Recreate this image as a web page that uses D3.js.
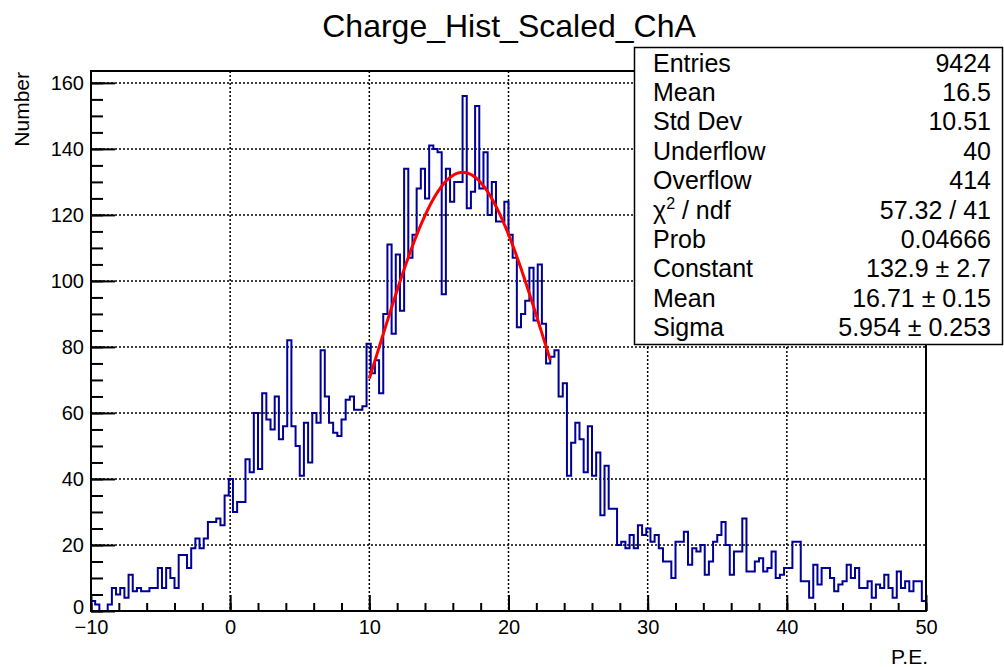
<!DOCTYPE html>
<html>
<head>
<meta charset="utf-8">
<script src="https://cdn.jsdelivr.net/npm/d3@7"></script>
<style>
  body { margin: 0; background: #fff; }
  svg { display: block; font-family: "Liberation Sans", Arial, sans-serif; }
</style>
</head>
<body>
<script>
const title = 'Charge_Hist_Scaled_ChA';
const xLabel = 'P.E.';
const yLabel = 'Number';

// 200 bins of 0.3 P.E. from -10 to 50
const xMin = -10, xMax = 50, binWidth = 0.3;
const counts = [
  3, 2, 0, 0, 2, 7, 5, 7, 4, 11, 6, 7, 6, 6, 7, 7, 13, 7, 13, 10,
  7, 17, 17, 13, 19, 22, 19, 22, 27, 27, 28, 26, 35, 40, 30, 33, 33,
  46, 42, 60, 43, 66, 58, 55, 65, 52, 56, 82, 56, 50, 41, 57, 45, 60, 57, 79,
  65, 57, 54, 53, 58, 64, 65, 61, 61, 62, 81, 72, 76, 66,
  90, 111, 84, 108, 91, 134, 107, 114, 128, 134, 125, 141, 140, 139, 96, 134,
  124, 130, 130, 156, 122, 127, 153, 128, 139, 120, 130, 118, 118, 124, 114, 107,
  86, 90, 94, 104, 88, 105, 87, 75, 77, 79, 65, 69, 41, 51, 57, 52, 42, 56, 41, 48,
  29, 44, 31, 31, 20, 21, 19,
  23, 19, 26, 23, 25, 21, 23, 19, 15, 15, 10, 21, 21, 24, 14, 19, 18, 20, 11, 15,
  21, 23, 27, 20, 11, 18, 18, 28, 12, 12, 15, 16, 12, 13, 18, 10, 11, 13,
  13, 21, 21, 9, 9, 4, 14, 8, 13, 13, 10, 6, 8, 9, 14, 10, 13, 7, 7, 9,
  4, 8, 7, 11, 7, 4, 12, 7, 9, 6, 9, 9, 3
];

const xTicks = [-10, 0, 10, 20, 30, 40, 50];
const yTicks = [0, 20, 40, 60, 80, 100, 120, 140, 160];

// gaussian fit, from the stats box
const fitConstant = 132.9, fitMean = 16.71, fitSigma = 5.954;
const fitRange = [10, 23];

const statNames = ['Entries', 'Mean', 'Std Dev', 'Underflow', 'Overflow', 'CHI', 'Prob', 'Constant', 'Mean', 'Sigma'];
const statValues = ['9424', '16.5', '10.51', '40', '414', '57.32 / 41', '0.04666', '132.9 \u00b1 2.7', '16.71 \u00b1 0.15', '5.954 \u00b1 0.253'];

const width = 1004, height = 667;
const padL = 91, padR = 926, padT = 71, padB = 611;

const svg = d3.select('body').append('svg')
  .attr('width', width)
  .attr('height', height);

const x = d3.scaleLinear().domain([xMin, xMax]).range([padL, padR]);
const y = d3.scaleLinear().domain([0, 163.6]).range([padB, padT]);

// grid
const grid = svg.append('g')
  .attr('stroke', '#000')
  .attr('stroke-width', 1.5)
  .attr('stroke-dasharray', '2,2');
grid.selectAll('.gx').data(xTicks.slice(1, -1)).enter()
  .append('line')
  .attr('x1', d => x(d)).attr('x2', d => x(d))
  .attr('y1', padT).attr('y2', padB);
grid.selectAll('.gy').data(yTicks.slice(1)).enter()
  .append('line')
  .attr('x1', padL).attr('x2', padR)
  .attr('y1', d => y(d)).attr('y2', d => y(d));

// histogram outline
const pts = [[xMin, 0]];
counts.forEach((c, i) => {
  pts.push([xMin + i * binWidth, c], [xMin + (i + 1) * binWidth, c]);
});
pts.push([xMax, 0]);
const line = d3.line().x(d => x(d[0])).y(d => y(d[1]));
svg.append('path')
  .attr('d', line(pts))
  .attr('fill', 'none')
  .attr('stroke', '#000099')
  .attr('stroke-width', 2);

// fit curve
const fitPts = d3.range(fitRange[0], fitRange[1] + 0.001, 0.05)
  .map(v => [v, fitConstant * Math.exp(-0.5 * ((v - fitMean) / fitSigma) ** 2)]);
svg.append('path')
  .attr('d', line(fitPts))
  .attr('fill', 'none')
  .attr('stroke', '#ff0000')
  .attr('stroke-width', 3);

// axes, ticks drawn inside the frame like ROOT
const yMinor = svg.append('g').attr('transform', `translate(${padL},0)`)
  .call(d3.axisLeft(y).tickValues(d3.range(0, 161, 5)).tickSizeInner(-12).tickSizeOuter(0).tickFormat(''));
const yMajor = svg.append('g').attr('transform', `translate(${padL},0)`)
  .call(d3.axisLeft(y).tickValues(yTicks).tickSizeInner(-24).tickSizeOuter(0).tickPadding(7));
const xMinor = svg.append('g').attr('transform', `translate(0,${padB})`)
  .call(d3.axisBottom(x).tickValues(d3.range(xMin, xMax + 1, 2)).tickSizeInner(-8).tickSizeOuter(0).tickFormat(''));
const xMajor = svg.append('g').attr('transform', `translate(0,${padB})`)
  .call(d3.axisBottom(x).tickValues(xTicks).tickSizeInner(-16).tickSizeOuter(0).tickPadding(9)
    .tickFormat(d => d < 0 ? '\u2212' + Math.abs(d) : d));

[yMinor, yMajor, xMinor, xMajor].forEach(g => {
  g.select('.domain').remove();
  g.selectAll('line').attr('stroke', '#000').attr('stroke-width', 2);
  g.selectAll('text')
    .attr('fill', '#000')
    .style('font-family', '"Liberation Sans", Arial, sans-serif')
    .style('font-size', '20px');
});
// the y "0" sits a little higher so it clears the x labels
yMajor.selectAll('text').filter(d => d === 0).attr('dy', '0.1em');

// frame
svg.append('rect')
  .attr('x', padL).attr('y', padT)
  .attr('width', padR - padL).attr('height', padB - padT)
  .attr('fill', 'none')
  .attr('stroke', '#000')
  .attr('stroke-width', 2);

// titles
svg.append('text')
  .attr('x', 509).attr('y', 37)
  .attr('text-anchor', 'middle')
  .style('font-size', '32px')
  .text(title);

svg.append('text')
  .attr('transform', 'translate(29,72) rotate(-90)')
  .attr('text-anchor', 'end')
  .style('font-size', '21px')
  .text(yLabel);

svg.append('text')
  .attr('x', 928).attr('y', 664)
  .attr('text-anchor', 'end')
  .style('font-size', '21px')
  .text(xLabel);

// stats box
svg.append('rect')
  .attr('x', 634.5).attr('y', 47.5)
  .attr('width', 368).attr('height', 297)
  .attr('fill', '#fff')
  .attr('stroke', '#000')
  .attr('stroke-width', 1.5);

const rowY = i => 71.7 + i * 29.37;
const stats = svg.append('g').style('font-size', '25px');
statNames.forEach((name, i) => {
  const t = stats.append('text').attr('x', 653).attr('y', rowY(i));
  if (name === 'CHI') {
    t.append('tspan').text('\u03c7');
    t.append('tspan').attr('dy', -10).style('font-size', '16px').text('2');
    t.append('tspan').attr('dy', 10).text(' / ndf');
  } else {
    t.text(name);
  }
  stats.append('text')
    .attr('x', 991).attr('y', rowY(i))
    .attr('text-anchor', 'end')
    .text(statValues[i]);
});
</script>
</body>
</html>
